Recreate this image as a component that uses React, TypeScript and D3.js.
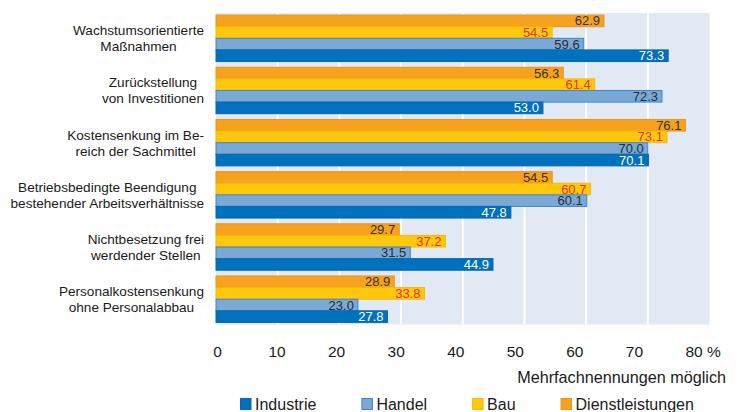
import React, { useEffect, useRef } from 'react';
import * as d3 from 'd3';

// categories (top to bottom), each split in two lines
const categories = [
  ['Wachstumsorientierte', 'Maßnahmen'],
  ['Zurückstellung', 'von Investitionen'],
  ['Kostensenkung im Be-', 'reich der Sachmittel'],
  ['Betriebsbedingte Beendigung', 'bestehender Arbeitsverhältnisse'],
  ['Nichtbesetzung frei', 'werdender Stellen'],
  ['Personalkostensenkung', 'ohne Personalabbau'],
];

const industrie = [73.3, 53.0, 70.1, 47.8, 44.9, 27.8];
const handel = [59.6, 72.3, 70.0, 60.1, 31.5, 23.0];
const bau = [54.5, 61.4, 73.1, 60.7, 37.2, 33.8];
const dienstleistungen = [62.9, 56.3, 76.1, 54.5, 29.7, 28.9];

const tickValues = [0, 10, 20, 30, 40, 50, 60, 70, 80];

const series = [
  { name: 'Dienstleistungen', values: dienstleistungen, fill: '#f6a21e', stroke: '#ec941a', label: '#333333' },
  { name: 'Bau', values: bau, fill: '#ffc80c', stroke: '#f8b800', label: '#e0352b' },
  { name: 'Handel', values: handel, fill: '#79a9d4', stroke: '#3f86c6', label: '#2b2b35' },
  { name: 'Industrie', values: industrie, fill: '#0071bc', stroke: '#0a66b0', label: '#ffffff' },
];

const legendOrder = ['Industrie', 'Handel', 'Bau', 'Dienstleistungen'];

const FONT = '"Liberation Sans", Arial, sans-serif';

const App = () => {
  const svgRef = useRef<SVGSVGElement>(null);

  useEffect(() => {
    const svg = d3.select(svgRef.current);
    svg.selectAll('*').remove();

    const x = d3.scaleLinear().domain([0, 80]).range([216, 709.5]);
    // tick labels sit on a slightly narrower spacing than the grid
    const xLabel = d3.scaleLinear().domain([0, 80]).range([217.5, 694]);

    const y = d3
      .scaleBand()
      .domain(categories.map((c) => c.join(' ')))
      .range([13, 324.5])
      .paddingInner(0.11)
      .paddingOuter(0.04);

    const ySub = d3
      .scaleBand()
      .domain(series.map((s) => s.name))
      .range([0, y.bandwidth()]);

    // plot background
    svg
      .append('rect')
      .attr('x', x(0))
      .attr('y', 13)
      .attr('width', x(80) - x(0))
      .attr('height', 324.5 - 13)
      .attr('fill', '#e1e9f5');

    // grid
    svg
      .append('g')
      .selectAll('line')
      .data(tickValues.slice(1, -1))
      .enter()
      .append('line')
      .attr('x1', (d) => x(d))
      .attr('x2', (d) => x(d))
      .attr('y1', 13)
      .attr('y2', 324.5)
      .attr('stroke', '#ffffff')
      .attr('stroke-width', 2);

    // bars
    const groups = svg
      .append('g')
      .selectAll('g')
      .data(categories)
      .enter()
      .append('g')
      .attr('transform', (c) => `translate(0, ${y(c.join(' '))})`);

    series.forEach((s) => {
      groups
        .append('rect')
        .attr('x', x(0))
        .attr('y', ySub(s.name) as number)
        .attr('width', (_, i) => x(s.values[i]) - x(0))
        .attr('height', ySub.bandwidth())
        .attr('fill', s.fill)
        .attr('stroke', s.stroke)
        .attr('stroke-width', 1);

      groups
        .append('text')
        .attr('x', (_, i) => x(s.values[i]) - 4)
        .attr('y', (ySub(s.name) as number) + ySub.bandwidth() / 2)
        .attr('dy', '0.35em')
        .attr('text-anchor', 'end')
        .attr('font-family', FONT)
        .attr('font-size', '13px')
        .attr('fill', s.label)
        .text((_, i) => s.values[i].toFixed(1));
    });

    // category labels: block right-aligned, lines centered within the block
    groups.each(function (c) {
      const g = d3.select(this);
      const texts = c.map((line, j) =>
        g
          .append('text')
          .attr('y', y.bandwidth() / 2 + (j === 0 ? -8 : 8))
          .attr('dy', '0.36em')
          .attr('text-anchor', 'middle')
          .attr('font-family', FONT)
          .attr('font-size', '13.6px')
          .attr('fill', '#1a1a1a')
          .text(line)
      );
      const maxW = d3.max(texts, (t) => (t.node() as SVGTextElement).getComputedTextLength()) as number;
      texts.forEach((t) => t.attr('x', 204 - maxW / 2));
    });

    // x tick labels
    svg
      .append('g')
      .selectAll('text')
      .data(tickValues)
      .enter()
      .append('text')
      .attr('x', (d) => xLabel(d))
      .attr('y', 357)
      .attr('text-anchor', 'middle')
      .attr('font-family', FONT)
      .attr('font-size', '15.5px')
      .attr('fill', '#1a1a1a')
      .text((d) => String(d));

    svg
      .append('text')
      .attr('x', xLabel(80) + 13)
      .attr('y', 357)
      .attr('font-family', FONT)
      .attr('font-size', '15.5px')
      .attr('fill', '#1a1a1a')
      .text('%');

    svg
      .append('text')
      .attr('x', 726)
      .attr('y', 383)
      .attr('text-anchor', 'end')
      .attr('font-family', FONT)
      .attr('font-size', '16.2px')
      .attr('fill', '#1a1a1a')
      .text('Mehrfachnennungen möglich');

    // legend: square, label, then a fixed gap to the next entry
    const leg = svg.append('g').attr('transform', 'translate(240, 398)');
    let cursor = 0;
    legendOrder.forEach((name) => {
      const s = series.find((d) => d.name === name)!;
      const item = leg.append('g').attr('transform', `translate(${cursor}, 0)`);
      item
        .append('rect')
        .attr('x', 0.5)
        .attr('y', 0.5)
        .attr('width', 10.5)
        .attr('height', 11)
        .attr('fill', s.fill)
        .attr('stroke', s.stroke);
      const t = item
        .append('text')
        .attr('x', 15)
        .attr('y', 6)
        .attr('dy', '0.36em')
        .attr('font-family', FONT)
        .attr('font-size', '16px')
        .attr('fill', '#1a1a1a')
        .text(name);
      cursor += 15 + (t.node() as SVGTextElement).getComputedTextLength() + 45;
    });
  }, []);

  return (
    <div>
      <svg
        ref={svgRef}
        width={753}
        height={412}
        style={{ position: 'absolute', left: 0, top: 0, background: '#ffffff' }}
      ></svg>
    </div>
  );
};

export default App;
